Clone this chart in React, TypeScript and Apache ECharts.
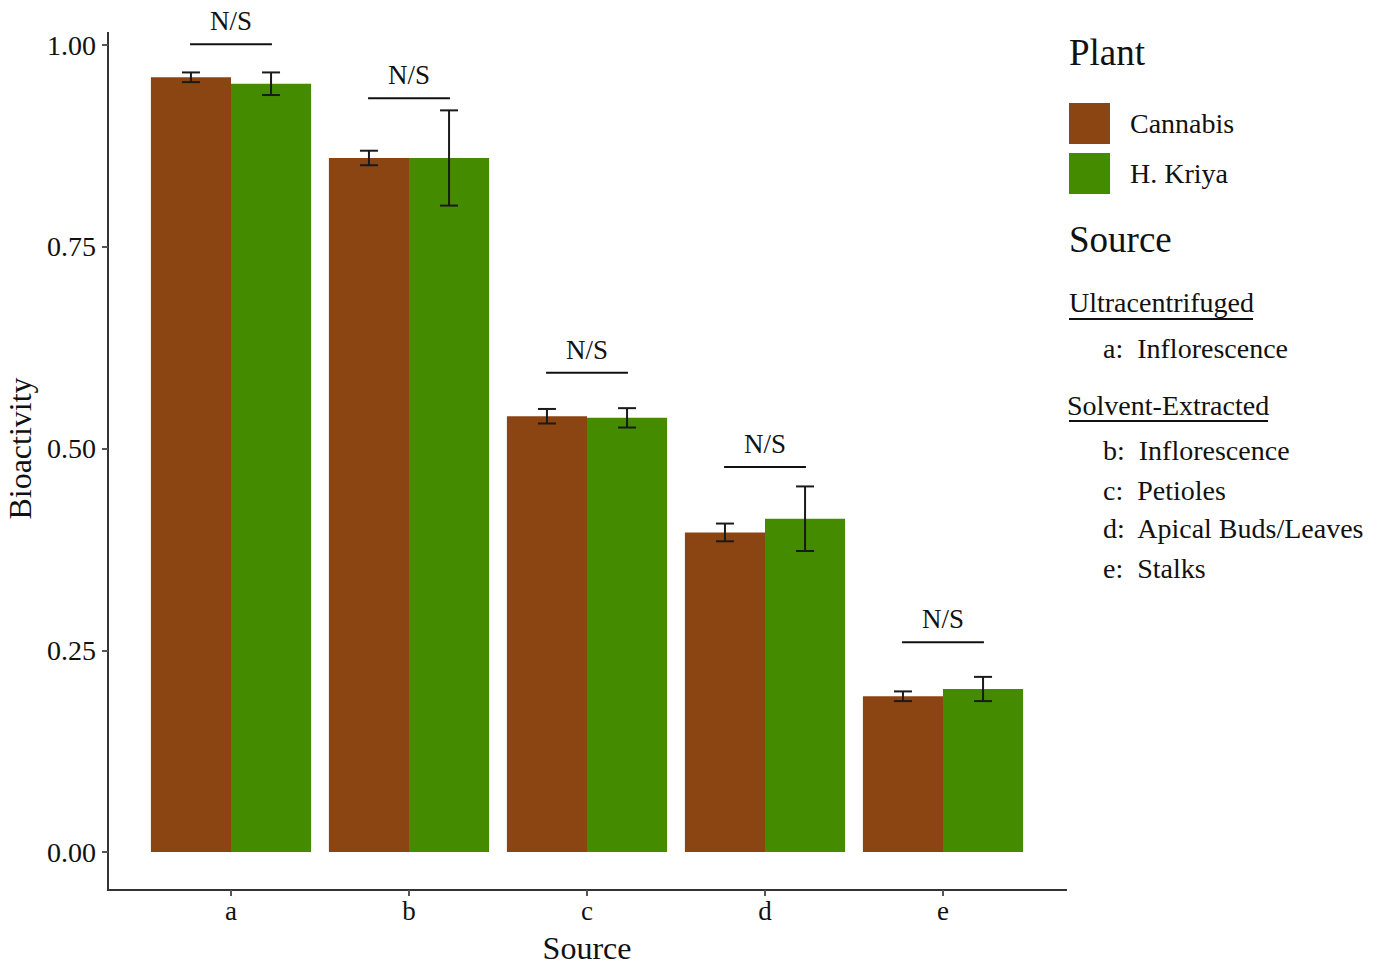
import React, { useEffect, useRef } from "react";
import * as echarts from "echarts";

// Source categories and mean bioactivity per plant
const categories = ["a", "b", "c", "d", "e"];
const cannabis = [0.96, 0.86, 0.54, 0.396, 0.193];
const kriya = [0.952, 0.86, 0.538, 0.413, 0.202];
// Error bar half-ranges
const cannabisErr = [0.006, 0.009, 0.009, 0.011, 0.006];
const kriyaErr = [0.014, 0.059, 0.012, 0.04, 0.015];
// Significance brackets above each pair
const bracketLevel = [1.001, 0.934, 0.594, 0.477, 0.26];
const bracketText = ["N/S", "N/S", "N/S", "N/S", "N/S"];
// Y tick values
const yTicks = [0, 0.25, 0.5, 0.75, 1.0];

// Source legend
const groupHeadings = ["Ultracentrifuged", "Solvent-Extracted"];
const groupKeys = [["a"], ["b", "c", "d", "e"]];
const groupNames = [["Inflorescence"], ["Inflorescence", "Petioles", "Apical Buds/Leaves", "Stalks"]];

const FONT = '"Liberation Serif", "Times New Roman", serif';
const BROWN = "#8B4513";
const GREEN = "#458B00";

export default function App() {
  const ref = useRef<HTMLDivElement>(null);

  useEffect(() => {
    if (!ref.current) return;
    const chart = echarts.init(ref.current, null, { renderer: "svg" });

    const errData = [
      ...categories.map((c, i) => [i, cannabis[i], cannabisErr[i], -1]),
      ...categories.map((c, i) => [i, kriya[i], kriyaErr[i], 1]),
    ];
    const bracketData = categories.map((c, i) => [i, bracketLevel[i], bracketText[i]]);

    // Source legend text + underlines
    const legendGraphics: any[] = [
      { type: "text", left: 1069, top: 34, style: { text: "Plant", font: `37px ${FONT}`, fill: "#111" } },
      { type: "text", left: 1069, top: 221, style: { text: "Source", font: `37px ${FONT}`, fill: "#111" } },
    ];
    const headingY = [302, 405];
    const underlineY = [319, 421];
    const itemY = [[348], [450, 490, 528, 568]];
    groupHeadings.forEach((h, gi) => {
      legendGraphics.push({
        type: "text",
        x: gi === 0 ? 1069 : 1067,
        y: headingY[gi],
        style: { text: h, font: `28px ${FONT}`, fill: "#111", verticalAlign: "middle" },
      });
      legendGraphics.push({
        type: "line",
        shape: { x1: 1069, y1: underlineY[gi], x2: gi === 0 ? 1253 : 1268, y2: underlineY[gi] },
        style: { stroke: "#111", lineWidth: 2 },
      });
      groupKeys[gi].forEach((k, ii) => {
        legendGraphics.push({
          type: "text",
          x: 1103,
          y: itemY[gi][ii],
          style: { text: `${k}:  ${groupNames[gi][ii]}`, font: `28px ${FONT}`, fill: "#111", verticalAlign: "middle" },
        });
      });
    });

    chart.setOption({
      animation: false,
      backgroundColor: "#ffffff",
      grid: [
        { left: 142, right: 345, top: 45, bottom: 115, containLabel: false, outerBoundsMode: "none" },
        // thin strip carrying the lowered category axis
        { left: 142, right: 345, top: 889, height: 1, containLabel: false, outerBoundsMode: "none" },
      ],
      legend: {
        data: ["Cannabis", "H. Kriya"],
        orient: "vertical",
        left: 1069,
        top: 103,
        padding: 0,
        itemWidth: 41,
        itemHeight: 41,
        itemGap: 9,
        icon: "rect",
        textStyle: { fontFamily: FONT, fontSize: 28, color: "#111", padding: [0, 0, 0, 15] },
      },
      xAxis: [
        {
          type: "category",
          data: categories,
          gridIndex: 0,
          axisLine: { show: false },
          axisTick: { show: false },
          axisLabel: { show: false },
        },
        {
          type: "category",
          data: categories,
          gridIndex: 1,
          position: "bottom",
          axisLine: { show: false },
          axisTick: { show: true, alignWithLabel: true, length: 6, lineStyle: { color: "#555", width: 2 } },
          axisLabel: { fontFamily: FONT, fontSize: 27, color: "#111", margin: 7 },
          name: "Source",
          nameLocation: "middle",
          nameGap: 42,
          nameTextStyle: { fontFamily: FONT, fontSize: 32, lineHeight: 32, color: "#111" },
        },
      ],
      yAxis: [
        {
          type: "value",
          gridIndex: 0,
          min: 0,
          max: 1,
          interval: 0.25,
          offset: 34,
          splitLine: { show: false },
          axisLine: { show: false },
          axisTick: { show: true, length: 6, lineStyle: { color: "#555", width: 2 } },
          axisLabel: {
            fontFamily: FONT,
            fontSize: 28,
            color: "#111",
            margin: 12,
            formatter: (v: number) => (yTicks.includes(v) ? v.toFixed(2) : ""),
          },
          name: "Bioactivity",
          nameLocation: "middle",
          nameGap: 68,
          nameTextStyle: { fontFamily: FONT, fontSize: 32, color: "#111" },
        },
        { type: "value", gridIndex: 1, show: false },
      ],
      graphic: [
        { type: "line", shape: { x1: 108, y1: 32, x2: 108, y2: 890 }, style: { stroke: "#333", lineWidth: 2 } },
        { type: "line", shape: { x1: 107, y1: 890, x2: 1067, y2: 890 }, style: { stroke: "#333", lineWidth: 2 } },
        ...legendGraphics,
      ],
      series: [
        {
          name: "Cannabis",
          type: "bar",
          data: cannabis,
          barWidth: "45%",
          barGap: "0%",
          itemStyle: { color: BROWN },
        },
        {
          name: "H. Kriya",
          type: "bar",
          data: kriya,
          barWidth: "45%",
          barGap: "0%",
          itemStyle: { color: GREEN },
        },
        {
          name: "err",
          type: "custom",
          data: errData,
          z: 10,
          renderItem: (params: any, api: any) => {
            const cat = api.value(0);
            const mean = api.value(1);
            const e = api.value(2);
            const side = api.value(3);
            const bw = api.size([1, 0])[0] * 0.225;
            const top = api.coord([cat, mean + e]);
            const bot = api.coord([cat, mean - e]);
            const x = top[0] + side * bw;
            const cap = 9;
            const style = { stroke: "#1a1a1a", lineWidth: 2 };
            return {
              type: "group",
              children: [
                { type: "line", shape: { x1: x, y1: top[1], x2: x, y2: bot[1] }, style },
                { type: "line", shape: { x1: x - cap, y1: top[1], x2: x + cap, y2: top[1] }, style },
                { type: "line", shape: { x1: x - cap, y1: bot[1], x2: x + cap, y2: bot[1] }, style },
              ],
            };
          },
        },
        {
          name: "sig",
          type: "custom",
          data: bracketData,
          z: 10,
          renderItem: (params: any, api: any) => {
            const cat = api.value(0);
            const lvl = api.value(1);
            const idx = params.dataIndex;
            const p = api.coord([cat, lvl]);
            const half = api.size([1, 0])[0] * 0.23;
            return {
              type: "group",
              children: [
                {
                  type: "line",
                  shape: { x1: p[0] - half, y1: p[1], x2: p[0] + half, y2: p[1] },
                  style: { stroke: "#111", lineWidth: 2 },
                },
                {
                  type: "text",
                  x: p[0],
                  y: p[1] - 23,
                  style: {
                    text: bracketText[idx],
                    font: `27px ${FONT}`,
                    fill: "#111",
                    align: "center",
                    verticalAlign: "middle",
                  },
                },
              ],
            };
          },
        },
      ],
    });

    return () => chart.dispose();
  }, []);

  return (
    <div
      ref={ref}
      style={{ position: "fixed", left: 0, top: 0, width: 1377, height: 967, background: "#fff" }}
    />
  );
}
